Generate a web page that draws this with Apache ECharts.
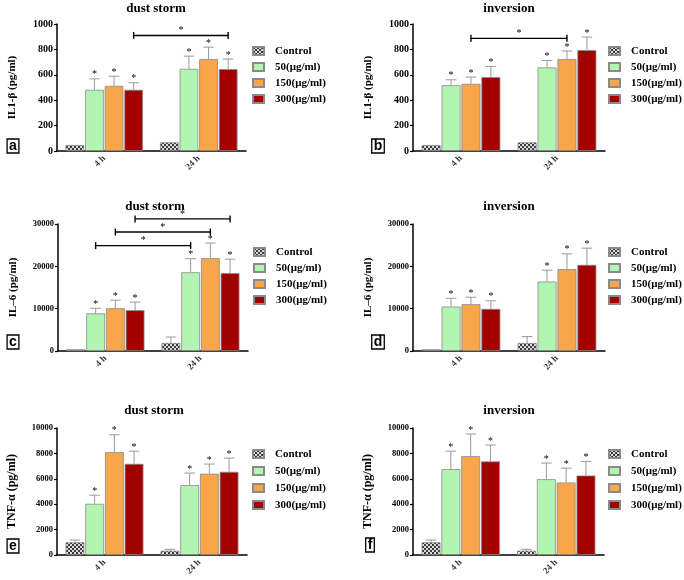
<!DOCTYPE html>
<html>
<head>
<meta charset="utf-8">
<script src="https://cdn.jsdelivr.net/npm/echarts@6/dist/echarts.min.js"></script>
<style>
  html, body { margin: 0; padding: 0; background: #fff; }
  #chart { width: 684px; height: 580px; }
</style>
</head>
<body>
<div id="chart"></div>
<script>
// categories and groups
var categories = ["4 h", "24 h"];
var groups = ["Control", "50(\u03bcg/ml)", "150(\u03bcg/ml)", "300(\u03bcg/ml)"];
var titles = ["dust storm", "inversion", "dust storm", "inversion", "dust storm", "inversion"];
var yNames = ["IL1-\u03b2 (pg/ml)", "IL1-\u03b2 (pg/ml)", "IL\u20136 (pg/ml)", "IL\u20136 (pg/ml)", "TNF-\u03b1 (pg/ml)", "TNF-\u03b1 (pg/ml)"];
var letters = ["a", "b", "c", "d", "e", "f"];
var yMax = [1000, 1000, 30000, 30000, 10000, 10000];
var yStep = [200, 200, 10000, 10000, 2000, 2000];

// means [group][category] and top of error bar [group][category]
var meanA = [[47, 68], [482, 647], [513, 724], [482, 645]];
var topA  = [[47, 68], [568, 747], [589, 818], [537, 724]];
var meanB = [[47, 68], [518, 658], [529, 724], [582, 795]];
var topB  = [[47, 68], [561, 713], [582, 787], [666, 897]];
var meanC = [[400, 1900], [8900, 18600], [10100, 21950], [9650, 18400]];
var topC  = [[400, 3300], [10100, 21800], [12000, 25500], [11550, 21700]];
var meanD = [[400, 1900], [10500, 16400], [11050, 19350], [9950, 20350]];
var topD  = [[400, 3400], [12450, 19100], [12700, 22950], [11850, 24300]];
var meanE = [[1000, 340], [4030, 5500], [8100, 6400], [7180, 6550]];
var topE  = [[1180, 450], [4710, 6450], [9470, 7160], [8180, 7630]];
var meanF = [[1000, 340], [6760, 5970], [7790, 5710], [7370, 6260]];
var topF  = [[1180, 450], [8180, 7240], [9530, 6840], [8660, 7370]];

// significance brackets: [cat1, group1, cat2, group2, height]
var bracketA = [[0, 3, 1, 3, 910]];
var bracketB = [[0, 2, 1, 2, 887]];
var bracketC = [[0, 1, 1, 1, 24900], [0, 2, 1, 2, 28100], [0, 3, 1, 3, 31200]];

var means = [meanA, meanB, meanC, meanD, meanE, meanF];
var tops = [topA, topB, topC, topD, topE, topF];
var brackets = [bracketA, bracketB, bracketC, [], [], []];

// layout of the six panels
var panels = [
  { left: 57, top: 24, width: 189, lgLeft: 252, lgTop: 44, lgGap: 2, tx: 156, ty: 9, lx: 13, ly: 146, lab: 10, nameSize: 11 },
  { left: 413, top: 24, width: 192, lgLeft: 608, lgTop: 44, lgGap: 2, tx: 509, ty: 9, lx: 378, ly: 146, lab: 10, nameSize: 11 },
  { left: 58, top: 224, width: 190, lgLeft: 253, lgTop: 245, lgGap: 2, tx: 155, ty: 207, lx: 13, ly: 342, lab: 8.5, nameSize: 11 },
  { left: 413, top: 224, width: 192, lgLeft: 608, lgTop: 245, lgGap: 2, tx: 509, ty: 207, lx: 378, ly: 342, lab: 8.5, nameSize: 11 },
  { left: 57, top: 428, width: 190, lgLeft: 252, lgTop: 447, lgGap: 3, tx: 154, ty: 411, lx: 13, ly: 546, lab: 8.5, nameSize: 12 },
  { left: 413, top: 428, width: 191, lgLeft: 608, lgTop: 447, lgGap: 3, tx: 509, ty: 411, lx: 370, ly: 545, lab: 8.5, nameSize: 12 }
];

var catGap = 0.18, barGap = 0.05;
var serif = "Liberation Serif";

// checkered fill for the control bars
var pat = document.createElement("canvas");
pat.width = 4; pat.height = 4;
var pc = pat.getContext("2d");
pc.fillStyle = "#dcdcdc"; pc.fillRect(0, 0, 4, 4);
pc.fillStyle = "#3a3a3a"; pc.fillRect(0, 0, 2, 2); pc.fillRect(2, 2, 2, 2);
var colors = [{ image: pat, repeat: "repeat" }, "#b2f5b2", "#f9a64a", "#a30000"];

function barCenter(api, cat, grp, val) {
  var band = api.size([1, 0])[0];
  var usable = band * (1 - catGap);
  var w = usable / (4 + 3 * barGap);
  var p = api.coord([cat, val]);
  var x = p[0] - usable / 2 + grp * w * (1 + barGap) + w / 2;
  return { x: x, y: p[1], w: w };
}

function renderErr(params, api) {
  var cat = api.value(0), grp = api.value(1), mean = api.value(2), top = api.value(3);
  var b = barCenter(api, cat, grp, mean);
  var t = barCenter(api, cat, grp, top);
  var children = [];
  if (top > mean) {
    var cw = b.w * 0.28;
    children.push({ type: "line", shape: { x1: b.x, y1: b.y, x2: b.x, y2: t.y }, style: { stroke: "#999", lineWidth: 1 } });
    children.push({ type: "line", shape: { x1: b.x - cw, y1: t.y, x2: b.x + cw, y2: t.y }, style: { stroke: "#999", lineWidth: 1 } });
  }
  if (grp > 0) {
    children.push({ type: "text", x: b.x, y: t.y - 4, style: { text: "*", font: "10px '" + serif + "'", fill: "#000", align: "center", verticalAlign: "middle" } });
  }
  return { type: "group", children: children };
}

function renderBracket(params, api) {
  var a = barCenter(api, api.value(0), api.value(1), api.value(4));
  var c = barCenter(api, api.value(2), api.value(3), api.value(4));
  var st = { stroke: "#000", lineWidth: 1.4 };
  return {
    type: "group",
    children: [
      { type: "line", shape: { x1: a.x, y1: a.y, x2: c.x, y2: c.y }, style: st },
      { type: "line", shape: { x1: a.x, y1: a.y - 3.5, x2: a.x, y2: a.y + 3.5 }, style: st },
      { type: "line", shape: { x1: c.x, y1: c.y - 3.5, x2: c.x, y2: c.y + 3.5 }, style: st },
      { type: "text", x: (a.x + c.x) / 2, y: a.y - 5, style: { text: "*", font: "10px '" + serif + "'", fill: "#000", align: "center", verticalAlign: "middle" } }
    ]
  };
}

var grid = [], xAxis = [], yAxis = [], series = [], legend = [], graphic = [];

panels.forEach(function (p, i) {
  grid.push({ left: p.left, top: p.top, width: p.width, height: 127, containLabel: false });
  xAxis.push({
    type: "category", gridIndex: i, data: categories,
    axisLine: { lineStyle: { color: "#000", width: 1.5 } },
    axisTick: { alignWithLabel: true, length: 4, lineStyle: { color: "#000", width: 1.2 } },
    axisLabel: { rotate: 45, margin: 6, fontSize: 9, fontWeight: "bold", fontFamily: serif, color: "#333" }
  });
  yAxis.push({
    type: "value", gridIndex: i, min: 0, max: yMax[i], interval: yStep[i],
    name: yNames[i], nameLocation: "middle", nameRotate: 90, nameGap: 39,
    nameTextStyle: { fontFamily: serif, fontWeight: "bold", fontSize: p.nameSize, color: "#000" },
    axisLine: { show: true, lineStyle: { color: "#000", width: 1.5 } },
    axisTick: { show: true, length: 3, lineStyle: { color: "#000", width: 1.2 } },
    axisLabel: { margin: 4, fontSize: p.lab, fontWeight: "bold", fontFamily: serif, color: "#000",
      formatter: function (v) { return String(v); } },
    splitLine: { show: false }
  });
  var errData = [];
  groups.forEach(function (g, gi) {
    series.push({
      name: g, type: "bar", xAxisIndex: i, yAxisIndex: i,
      data: means[i][gi], barCategoryGap: (catGap * 100) + "%", barGap: (barGap * 100) + "%",
      itemStyle: { color: colors[gi], borderColor: "#8a8a8a", borderWidth: 0.8 },
      silent: true
    });
    categories.forEach(function (c, ci) {
      errData.push([ci, gi, means[i][gi][ci], tops[i][gi][ci]]);
    });
  });
  series.push({
    name: "err" + i, type: "custom", xAxisIndex: i, yAxisIndex: i, z: 5, silent: true,
    renderItem: renderErr, encode: { x: 0, y: 3 }, data: errData
  });
  if (brackets[i].length) {
    series.push({
      name: "br" + i, type: "custom", xAxisIndex: i, yAxisIndex: i, z: 5, silent: true, clip: false,
      renderItem: renderBracket, encode: { x: 0, y: 4 }, data: brackets[i]
    });
  }
  legend.push({
    orient: "vertical", left: p.lgLeft, top: p.lgTop, itemGap: p.lgGap, padding: 0,
    itemWidth: 11, itemHeight: 8, icon: "rect", selectedMode: false, data: groups,
    textStyle: { fontFamily: serif, fontWeight: "bold", fontSize: 11, color: "#000", lineHeight: 14, padding: [0, 0, 0, 6] }
  });
  graphic.push({
    type: "text", x: p.tx, y: p.ty,
    style: { text: titles[i], font: "bold 13px '" + serif + "'", fill: "#000", align: "center", verticalAlign: "middle" }
  });
  graphic.push({
    type: "text", x: p.lx, y: p.ly,
    style: { text: letters[i], font: "bold 14px 'Liberation Sans'", fill: "#000", align: "center", verticalAlign: "middle",
      borderColor: "#000", borderWidth: 1.3, padding: [0, 2, 0, 2] }
  });
});

var chart = echarts.init(document.getElementById("chart"));
chart.setOption({
  animation: false,
  backgroundColor: "#fff",
  grid: grid, xAxis: xAxis, yAxis: yAxis, legend: legend, series: series, graphic: graphic
});
</script>
</body>
</html>
